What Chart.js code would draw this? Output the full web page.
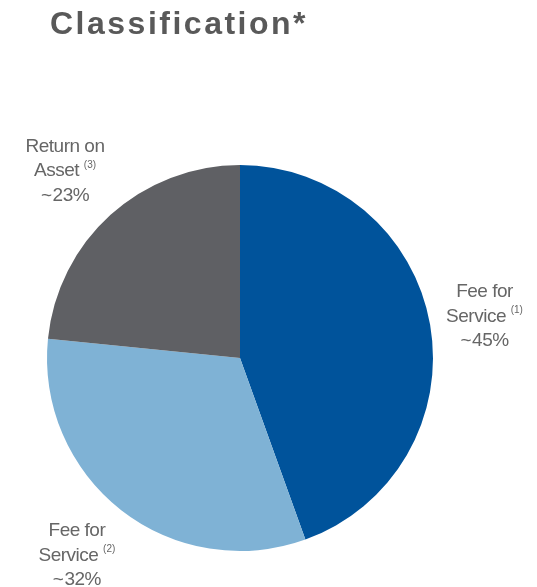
<!DOCTYPE html>
<html lang="en">
<head>
    <meta charset="UTF-8">
    <title>Classification</title>
    <script src="https://cdn.jsdelivr.net/npm/chart.js"></script>
    <style>
        body { margin: 0; background: #fff; }
        #wrap { position: relative; width: 537px; height: 587px; }
        h1 {
            position: absolute; left: 50px; top: 5px; margin: 0;
            font: bold 32px "Liberation Sans", Arial, sans-serif;
            letter-spacing: 2.5px; color: #595959;
        }
    </style>
</head>
<body>
<div id="wrap">
    <h1>Classification*</h1>
    <canvas id="pieChart" width="537" height="587"></canvas>
</div>
<script>
    // slices, clockwise from 12 o'clock
    const labelTop = ['Fee for', 'Fee for', 'Return on'];
    const labelMid = ['Service', 'Service', 'Asset'];
    const labelNote = ['(1)', '(2)', '(3)'];
    const labelPct = ['~\u200a45%', '~\u200a32%', '~\u200a23%'];
    const shares = [44.5, 32.1, 23.4];
    const colors = ['#00539b', '#7fb2d5', '#5f6064'];

    // gap from the rim and small angle tweak (degrees) for each label
    const labelGap = [55, 63, 63];
    const labelTurn = [0.3, 1.6, -1];

    // draws the text blocks outside each slice
    const outsideLabels = {
        id: 'outsideLabels',
        afterDraw(chart) {
            const ctx = chart.ctx;
            const meta = chart.getDatasetMeta(0);
            const big = '19px "Liberation Sans", Arial, sans-serif';
            const small = '10px "Liberation Sans", Arial, sans-serif';
            ctx.save();
            ctx.fillStyle = '#666666';
            ctx.textBaseline = 'middle';
            meta.data.forEach((arc, i) => {
                const mid = (arc.startAngle + arc.endAngle) / 2 + labelTurn[i] * Math.PI / 180;
                const dist = arc.outerRadius + labelGap[i];
                const cx = arc.x + Math.cos(mid) * dist;
                const cy = arc.y + Math.sin(mid) * dist;
                const lh = 24.5;

                ctx.font = big;
                ctx.letterSpacing = '-0.5px';
                ctx.textAlign = 'center';
                ctx.fillText(labelTop[i], cx, cy - lh);
                ctx.fillText(labelPct[i], cx, cy + lh);

                // middle line with superscript note
                const w1 = ctx.measureText(labelMid[i] + ' ').width;
                ctx.font = small;
                ctx.letterSpacing = '0px';
                const w2 = ctx.measureText(labelNote[i]).width;
                const x0 = cx - (w1 + w2) / 2;
                ctx.textAlign = 'left';
                ctx.fillText(labelNote[i], x0 + w1, cy - 6);
                ctx.font = big;
                ctx.letterSpacing = '-0.5px';
                ctx.fillText(labelMid[i], x0, cy);
            });
            ctx.restore();
        }
    };

    new Chart(document.getElementById('pieChart'), {
        type: 'pie',
        data: {
            labels: labelTop.map((t, i) => t + ' ' + labelMid[i] + ' ' + labelNote[i]),
            datasets: [{
                data: shares,
                backgroundColor: colors,
                borderWidth: 0
            }]
        },
        options: {
            responsive: false,
            animation: false,
            layout: { padding: { left: 47, right: 104, top: 165, bottom: 36 } },
            plugins: {
                legend: { display: false },
                tooltip: { enabled: false }
            }
        },
        plugins: [outsideLabels]
    });
</script>
</body>
</html>
